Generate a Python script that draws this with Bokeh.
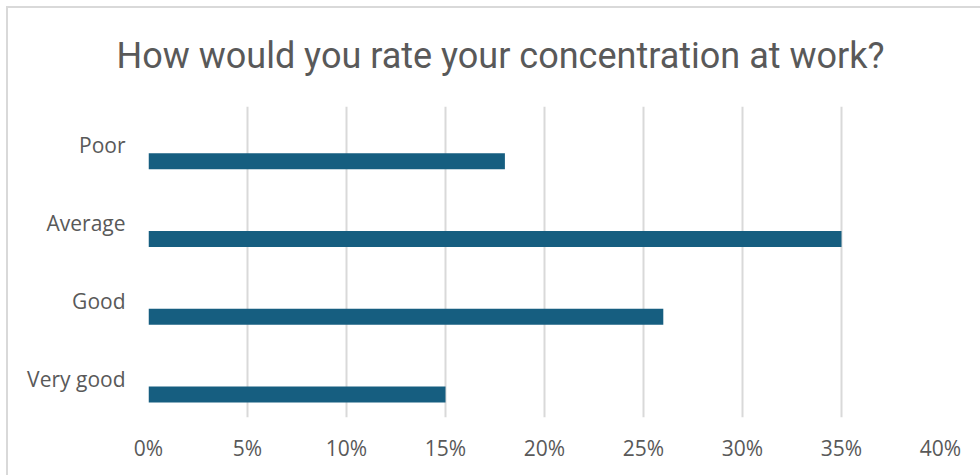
from bokeh.plotting import figure
from bokeh.models import FactorRange, NumeralTickFormatter, FixedTicker, Range1d, ColumnDataSource
from bokeh.transform import dodge
from bokeh.embed import file_html
from bokeh.resources import INLINE

categories = ["Poor", "Average", "Good", "Very good"]
values = [0.18, 0.35, 0.26, 0.15]
x_ticks = [0.0, 0.05, 0.10, 0.15, 0.20, 0.25, 0.30, 0.35, 0.40]
title_text = "How would you rate your concentration at work?"

src = ColumnDataSource(data=dict(cat=categories, val=values))

p = figure(
    width=980, height=475,
    y_range=FactorRange(*reversed(categories)),
    x_range=Range1d(0, 0.40),
    output_backend="svg", toolbar_location=None,
    min_border_left=148, min_border_right=40, min_border_top=106, min_border_bottom=58,
)
p.border_fill_color = None
p.styles = {
    "background": "linear-gradient(#d9d9d9, #d9d9d9) 6px 6px / 100% 2px no-repeat, "
                  "linear-gradient(#d9d9d9, #d9d9d9) 6px 6px / 2px 100% no-repeat, white"
}
p.outline_line_color = None

p.hbar(y=dodge("cat", -0.205, range=p.y_range), left=0, right="val", height=0.205,
       source=src, fill_color="#165E80", line_color=None)

p.title.text = title_text
p.title.align = "left"
p.title.text_font = "Roboto"
p.title.text_font_size = "36px"
p.title.text_font_style = "normal"
p.title.text_color = "#595959"
p.title.offset = -32
p.title.standoff = 60

p.xaxis.ticker = FixedTicker(ticks=x_ticks)
p.xaxis.formatter = NumeralTickFormatter(format="0%")
p.xgrid.ticker = FixedTicker(ticks=x_ticks)
p.xgrid.grid_line_color = "#d9d9d9"
p.xgrid.grid_line_width = 2
p.ygrid.visible = False

for ax in (p.xaxis, p.yaxis):
    ax.axis_line_color = None
    ax.major_tick_line_color = None
    ax.minor_tick_line_color = None
    ax.major_tick_out = 0
    ax.major_tick_in = 0
    ax.major_label_text_font = "Open Sans"
    ax.major_label_text_font_size = "21px"
    ax.major_label_text_color = "#595959"
p.xaxis.major_label_standoff = 16
p.yaxis.major_label_standoff = 23

open("out.html", "w").write(file_html(p, INLINE))
